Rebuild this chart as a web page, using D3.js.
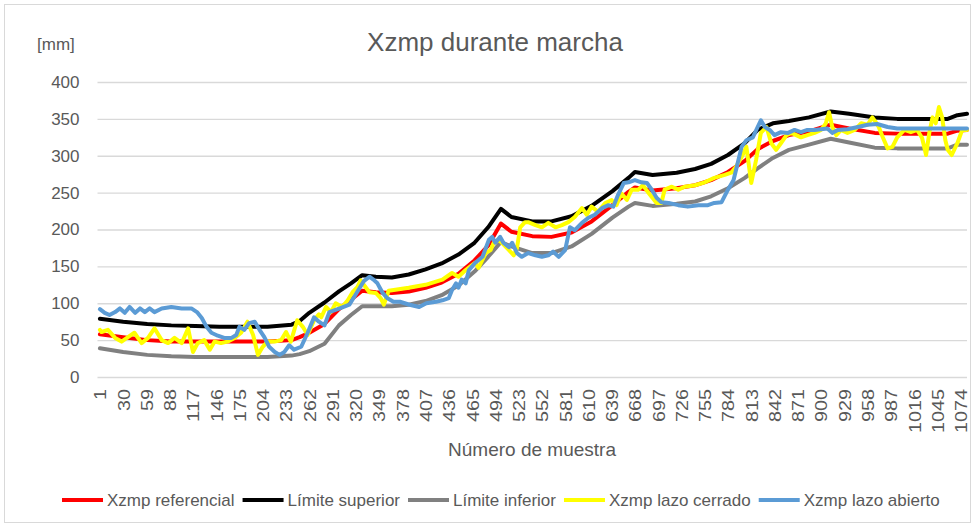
<!DOCTYPE html>
<html>
<head>
<meta charset="utf-8">
<script src="https://cdn.jsdelivr.net/npm/d3@7"></script>
<style>
  html, body { margin: 0; padding: 0; background: #fff; }
  svg { display: block; font-family: "Liberation Sans", Arial, sans-serif; }
</style>
</head>
<body>
<svg id="chart" width="975" height="527"></svg>
<script>
// Sample numbers where the reference trajectory and its limits are listed
const limitSamples = [1, 30, 60, 90, 120, 150, 180, 210, 240, 250, 262, 281, 299, 314, 328, 345, 365, 386, 407, 427, 448, 468, 485, 501, 514, 540, 564, 589, 614, 640, 660, 668, 690, 720, 743, 763, 784, 805, 821, 840, 860, 885, 912, 935, 967, 995, 1030, 1058, 1070, 1082];

// Xzmp referencial [mm]
const referenceZmp = [58, 54, 50, 48, 48, 48, 48, 48, 50, 54, 60, 72, 92, 105, 117, 115, 114, 116, 121, 128, 140, 158, 178, 208, 197, 191, 190, 196, 211, 233, 251, 257, 253, 256, 260, 267, 278, 293, 309, 320, 328, 333, 342, 337, 331, 330, 330, 330, 334, 335];

// Límite superior [mm]
const upperLimit = [79, 75, 72, 70, 69, 68, 68, 68, 71, 76, 87, 101, 116, 127, 138, 136, 135, 139, 146, 154, 166, 182, 203, 228, 217, 211, 211, 218, 232, 252, 270, 278, 274, 277, 282, 289, 301, 317, 335, 344, 347, 352, 360, 357, 352, 350, 350, 350, 355, 357];

// Límite inferior [mm]
const lowerLimit = [39, 34, 30, 28, 27, 27, 27, 27, 29, 31, 35, 45, 70, 84, 96, 96, 96, 98, 103, 111, 124, 143, 163, 183, 177, 168, 168, 177, 194, 216, 231, 236, 232, 235, 238, 245, 256, 270, 283, 297, 308, 315, 323, 318, 311, 310, 310, 310, 315, 315];

// Xzmp lazo cerrado
const closedLoopSamples = [1, 3, 11, 20, 28, 36, 44, 53, 61, 69, 78, 86, 94, 103, 111, 117, 123, 131, 138, 144, 152, 160, 169, 177, 185, 192, 198, 204, 210, 219, 227, 233, 239, 247, 254, 260, 268, 274, 277, 283, 289, 295, 303, 310, 316, 322, 326, 330, 337, 345, 351, 355, 361, 386, 407, 428, 440, 448, 457, 469, 473, 482, 488, 492, 498, 504, 511, 517, 521, 525, 531, 535, 544, 552, 560, 569, 577, 585, 593, 602, 608, 614, 622, 631, 639, 645, 651, 658, 664, 672, 678, 682, 689, 695, 701, 705, 714, 722, 730, 743, 755, 767, 780, 788, 794, 801, 807, 813, 819, 825, 832, 838, 844, 850, 857, 863, 869, 875, 883, 892, 900, 906, 910, 914, 919, 925, 933, 942, 950, 958, 964, 968, 972, 977, 983, 989, 995, 1004, 1012, 1020, 1026, 1031, 1035, 1039, 1043, 1047, 1051, 1055, 1058, 1063, 1070, 1076, 1082];
const closedLoopZmp = [64, 61, 64, 53, 48, 54, 60, 46, 53, 66, 50, 46, 53, 46, 66, 34, 46, 50, 37, 48, 46, 48, 53, 60, 75, 57, 30, 41, 48, 48, 50, 61, 48, 77, 68, 57, 77, 85, 81, 95, 88, 100, 95, 104, 115, 122, 131, 125, 115, 114, 107, 98, 117, 121, 125, 132, 141, 136, 145, 155, 148, 168, 172, 182, 186, 180, 172, 165, 175, 203, 210, 210, 206, 203, 209, 203, 206, 210, 217, 229, 220, 231, 224, 236, 240, 233, 249, 240, 254, 254, 260, 254, 244, 236, 236, 254, 258, 254, 258, 260, 264, 270, 274, 277, 285, 298, 312, 263, 294, 331, 339, 317, 308, 317, 328, 331, 328, 325, 328, 331, 335, 344, 359, 339, 328, 335, 331, 335, 344, 342, 352, 346, 339, 325, 310, 312, 325, 335, 332, 335, 324, 301, 331, 352, 344, 366, 352, 321, 308, 301, 317, 335, 335];

// Xzmp lazo abierto
const openLoopSamples = [1, 7, 13, 20, 26, 32, 38, 45, 51, 57, 63, 69, 78, 90, 103, 115, 122, 128, 134, 140, 148, 156, 165, 171, 175, 181, 187, 194, 200, 206, 212, 219, 225, 231, 237, 243, 252, 260, 268, 274, 281, 287, 300, 312, 321, 330, 337, 342, 347, 353, 359, 367, 375, 387, 399, 408, 420, 428, 436, 440, 445, 448, 452, 457, 461, 469, 478, 486, 490, 494, 500, 504, 511, 515, 521, 527, 535, 544, 552, 560, 566, 573, 581, 587, 593, 602, 610, 618, 627, 635, 641, 647, 654, 660, 668, 676, 683, 689, 695, 701, 710, 722, 734, 747, 759, 767, 776, 784, 791, 795, 801, 807, 815, 821, 825, 830, 836, 842, 850, 859, 867, 875, 883, 892, 900, 908, 914, 921, 933, 946, 958, 970, 983, 995, 1016, 1058, 1082];
const openLoopZmp = [92, 87, 84, 88, 93, 87, 95, 87, 93, 88, 93, 88, 93, 95, 93, 93, 88, 80, 68, 60, 56, 53, 53, 57, 68, 64, 73, 75, 64, 54, 41, 34, 30, 34, 43, 37, 41, 60, 81, 75, 70, 88, 93, 98, 114, 130, 136, 132, 127, 115, 107, 102, 102, 98, 95, 100, 102, 104, 107, 118, 127, 121, 132, 127, 145, 155, 163, 186, 190, 182, 190, 182, 176, 182, 168, 163, 168, 165, 163, 165, 170, 163, 172, 203, 199, 209, 216, 220, 229, 233, 231, 247, 263, 264, 267, 264, 263, 254, 243, 237, 236, 233, 231, 233, 233, 236, 237, 254, 267, 285, 312, 321, 325, 339, 348, 339, 335, 328, 332, 331, 335, 332, 335, 335, 336, 337, 331, 335, 336, 339, 342, 343, 339, 337, 337, 337, 337];

const xTickLabels = [1, 30, 59, 88, 117, 146, 175, 204, 233, 262, 291, 320, 349, 378, 407, 436, 465, 494, 523, 552, 581, 610, 639, 668, 697, 726, 755, 784, 813, 842, 871, 900, 929, 958, 987, 1016, 1045, 1074];
const yTickValues = [0, 50, 100, 150, 200, 250, 300, 350, 400];

const seriesNames = ["Xzmp referencial", "Límite superior", "Límite inferior", "Xzmp lazo cerrado", "Xzmp lazo abierto"];
const seriesColors = ["#ff0000", "#000000", "#808080", "#ffff00", "#5b9bd5"];

const textColor = "#595959";
const gridColor = "#d9d9d9";

const svg = d3.select("#chart");

// outer chart frame
svg.append("rect")
  .attr("x", 4.5).attr("y", 4.5)
  .attr("width", 966).attr("height", 518)
  .attr("fill", "#fff").attr("stroke", gridColor).attr("stroke-width", 1);

const plot = { left: 97.5, right: 967, top: 82, bottom: 377 };

const x = d3.scaleLinear().domain([-2, 1082]).range([plot.left, plot.right]);
const y = d3.scaleLinear().domain([0, 400]).range([plot.bottom, plot.top]);

// horizontal gridlines and value labels
const yAxis = d3.axisLeft(y)
  .tickValues(yTickValues)
  .tickSize(-(plot.right - plot.left))
  .tickPadding(18)
  .tickFormat(d3.format("d"));

const gy = svg.append("g")
  .attr("transform", `translate(${plot.left},0)`)
  .call(yAxis);
gy.select(".domain").remove();
gy.selectAll(".tick line").attr("stroke", gridColor).attr("stroke-width", 1.3);
gy.selectAll(".tick text")
  .attr("fill", textColor)
  .attr("font-size", 17)
  .attr("font-family", "Liberation Sans, Arial, sans-serif");

// category axis with rotated sample numbers
const xAxis = d3.axisBottom(x)
  .tickValues(xTickLabels)
  .tickSize(0)
  .tickFormat(d3.format("d"));

const gx = svg.append("g")
  .attr("transform", `translate(0,${plot.bottom})`)
  .call(xAxis);
gx.select(".domain").remove();
gx.selectAll(".tick text")
  .attr("fill", textColor)
  .attr("font-size", 17)
  .attr("font-family", "Liberation Sans, Arial, sans-serif")
  .attr("text-anchor", "end")
  .attr("transform", "rotate(-90)")
  .attr("x", -12)
  .attr("y", 0)
  .attr("dy", "0.35em")
  .attr("textLength", d => String(d).length * 11)
  .attr("lengthAdjust", "spacingAndGlyphs");

// series lines
const line = d3.line()
  .x(d => x(d[0]))
  .y(d => y(d[1]));

const zip = (xs, ys) => xs.map((s, i) => [s, ys[i]]);

const series = [
  zip(limitSamples, referenceZmp),
  zip(limitSamples, upperLimit),
  zip(limitSamples, lowerLimit),
  zip(closedLoopSamples, closedLoopZmp),
  zip(openLoopSamples, openLoopZmp)
];

svg.append("g")
  .selectAll("path")
  .data(series)
  .join("path")
  .attr("d", line)
  .attr("fill", "none")
  .attr("stroke", (d, i) => seriesColors[i])
  .attr("stroke-width", 4)
  .attr("stroke-linejoin", "round")
  .attr("stroke-linecap", "round");

// titles
svg.append("text")
  .attr("x", 495).attr("y", 51)
  .attr("text-anchor", "middle")
  .attr("font-size", 26)
  .attr("fill", textColor)
  .text("Xzmp durante marcha");

svg.append("text")
  .attr("x", 37).attr("y", 50)
  .attr("font-size", 17)
  .attr("fill", textColor)
  .text("[mm]");

svg.append("text")
  .attr("x", 532).attr("y", 456)
  .attr("text-anchor", "middle")
  .attr("font-size", 19)
  .attr("fill", textColor)
  .text("Número de muestra");

// legend
const legend = svg.append("g");
let lx = 62;
seriesNames.forEach((name, i) => {
  legend.append("line")
    .attr("x1", lx).attr("x2", lx + 41)
    .attr("y1", 500).attr("y2", 500)
    .attr("stroke", seriesColors[i])
    .attr("stroke-width", 4);
  const t = legend.append("text")
    .attr("x", lx + 45).attr("y", 506)
    .attr("font-size", 17)
    .attr("fill", textColor)
    .text(name);
  lx += 45 + t.node().getComputedTextLength() + 8;
});
</script>
</body>
</html>
